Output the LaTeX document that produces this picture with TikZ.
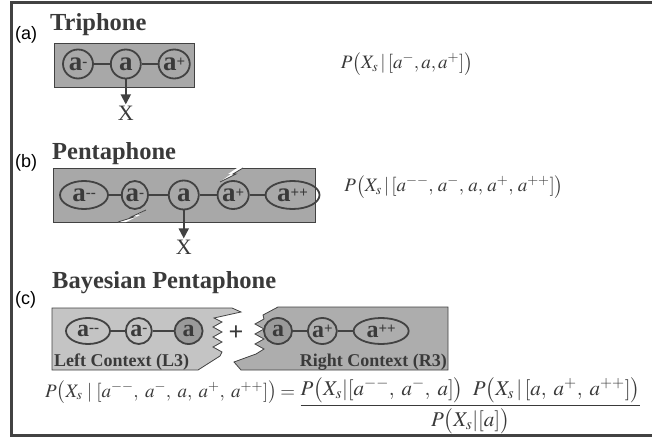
\documentclass[tikz,border=0pt]{standalone}
\usepackage{mathptmx}
\usepackage{fontspec}
\setmainfont{Liberation Serif}
\setsansfont{Liberation Sans}
\usetikzlibrary{positioning,shapes.geometric,arrows.meta}
\definecolor{ink}{HTML}{3A3A3A}
\definecolor{rim}{HTML}{424242}
\definecolor{boxfill}{HTML}{A8A8A8}
\definecolor{leftfill}{HTML}{C4C4C4}
\definecolor{rightfill}{HTML}{ADADAD}
\definecolor{midfill}{HTML}{9A9A9A}
\newcommand{\phsign}[1]{\raisebox{4pt}{\fontsize{15}{15}\selectfont #1}}

\begin{document}
\begin{tikzpicture}[x=1pt,y=-1pt,inner sep=0pt,
  phone/.style={ellipse,draw=rim,line width=1.8pt,minimum width=30pt,minimum height=29pt,
    text=ink,font=\fontsize{27}{27}\selectfont\bfseries},
  cphone/.style={phone,minimum height=26pt,font=\fontsize{24}{24}\selectfont\bfseries},
  link/.style={rim,line width=1.6pt},
  title/.style={anchor=base west,text=ink,font=\fontsize{24.5}{24.5}\selectfont\bfseries},
  tag/.style={anchor=base west,text=black,font=\fontsize{18}{18}\selectfont\sffamily},
  eq/.style={text=ink,font=\fontsize{19}{19}\selectfont},
  ctx/.style={text=ink,font=\fontsize{18}{18}\selectfont\bfseries},
  obs/.style={-{Triangle[length=10pt,width=10pt]},rim,line width=1.8pt,shorten >=1pt},
  xlab/.style={text=ink,font=\fontsize{22}{22}\selectfont}]
\useasboundingbox (0,0) rectangle (652,438);
\draw[rim,line width=3pt] (652,3) -- (11,3) -- (11,435) -- (652,435);

\node[tag] (ta) at (15,40) {(a)};
\node[title] (tt) at (50,31) {Triphone};
\draw[rim,fill=boxfill,line width=0.8pt] (54,43) rectangle (194,87);
\node[phone] (a1) at (78,64) {a\phsign{-}};
\node[phone,right=16pt of a1] (a2) {a};
\node[phone,right=16pt of a2] (a3) {a\phsign{+}};
\draw[link] (a1) -- (a2) (a2) -- (a3);
\node[xlab,below=26pt of a2] (x1) {X};
\draw[obs] (a2) -- (x1);
\node[eq] (pa) at (407,64) {$P\bigl(X_s\,|\,[a^-,a,a^+]\bigr)$};

\node[tag] (tb) at (15,168) {(b)};
\node[title] (tp) at (52,160) {Pentaphone};
\draw[rim,fill=boxfill,line width=0.8pt] (53,168) rectangle (315,222);
\fill[white] (243,168) -- (233,174) -- (236,174) -- (220,182) -- (231,174) -- (228,174) -- (237,168) -- cycle;
\draw[rim,line width=0.8pt] (243,168) -- (233,174) -- (236,174) -- (220,182);
\fill[white] (146,210) -- (131,217) -- (134,217) -- (118,222) -- (126,222) -- (140,215) -- (137,215) -- cycle;
\draw[rim,line width=0.8pt] (146,210) -- (131,217) -- (134,217) -- (118,222);
\node[phone,minimum width=48pt,minimum height=28pt] (b1) at (84,195) {a\phsign{-{}-}};
\node[phone,minimum width=26pt,minimum height=28pt,right=12pt of b1] (b2) {a\phsign{-}};
\node[phone,right=19pt of b2] (b3) {a};
\node[phone,minimum width=27pt,minimum height=28pt,right=17pt of b3] (b4) {a\phsign{+}};
\node[phone,minimum width=54pt,minimum height=28pt,right=15pt of b4] (b5) {a\phsign{++}};
\draw[link] (b1) -- (b2) (b2) -- (b3) (b3) -- (b4) (b4) -- (b5);
\node[xlab,below=29pt of b3] (x2) {X};
\draw[obs] (b3) -- (x2);
\node[eq] (pb) at (454,187) {$P\bigl(X_s\,|\,[a^{--},\,a^-,\,a,\,a^+,\,a^{++}]\bigr)$};

\node[tag] (tc) at (15,304) {(c)};
\node[title] (tbp) at (52,288) {Bayesian Pentaphone};
\draw[rim,fill=leftfill,line width=0.8pt] (52,308) -- (232,308) -- (241,312) -- (214,318)
  -- (222,322) -- (213,327) -- (222,332) -- (213,337) -- (222,342) -- (213,347)
  -- (222,352) -- (220,356) -- (198,370) -- (52,370) -- cycle;
\draw[rim,fill=rightfill,line width=0.8pt] (278,307) -- (448,307) -- (448,370) -- (241,370)
  -- (234,362) -- (256,354) -- (264,349) -- (255,344) -- (264,339) -- (255,334)
  -- (264,329) -- (255,324) -- (264,319) -- (263,315) -- cycle;
\node[cphone,minimum width=44pt] (c1) at (88,331) {a\phsign{-{}-}};
\node[cphone,minimum width=26pt,right=14pt of c1] (c2) {a\phsign{-}};
\node[cphone,minimum width=28pt,fill=midfill,right=21pt of c2] (c3) {a};
\draw[link] (c1) -- (c2) (c2) -- (c3);
\node[text=ink,font=\fontsize{26}{26}\selectfont\bfseries] (plus) at (236,333) {+};
\node[cphone,minimum width=28pt,fill=midfill] (c4) at (278,331) {a};
\node[cphone,minimum width=27pt,right=14pt of c4] (c5) {a\phsign{+}};
\node[cphone,minimum width=55pt,right=15pt of c5] (c6) {a\phsign{++}};
\draw[link] (c4) -- (c5) (c5) -- (c6);
\node[ctx,anchor=base west] (lc) at (54,366) {Left Context (L3)};
\node[ctx,anchor=base east] (rc) at (447,366) {Right Context (R3)};

\node[eq,anchor=base west] (lhs) at (45,397) {$P\bigl(X_s\;|\;[a^{--},\;a^-,\;a,\;a^+,\;a^{++}]\bigr)$};
\node[eq,base right=3pt of lhs] (eqs) {$=$};
\node[eq,font=\fontsize{21}{21}\selectfont,base right=4pt of eqs,yshift=-14pt] (rhs)
  {$\displaystyle\frac{P\bigl(X_s|[a^{--},\;a^-,\;a]\bigr)\;\;P\bigl(X_s\,|\,[a,\;a^+,\;a^{++}]\bigr)}{P\bigl(X_s|[a]\bigr)}$};
\end{tikzpicture}
\end{document}
